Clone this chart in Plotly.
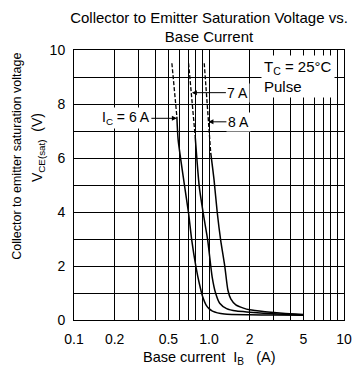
import numpy as np
import plotly.graph_objects as go

# ---- data ----
ic6_dash_x = [0.531, 0.555, 0.578]
ic6_dash_y = [9.51, 8.5, 7.53]
ic6_x = [0.578, 0.591, 0.655, 0.706, 0.745, 0.80, 0.847, 0.898, 0.95, 1.0, 1.06, 1.3, 2.0, 3.0, 5.0]
ic6_y = [7.53, 6.67, 5.06, 3.95, 2.96, 1.98, 1.36, 0.86, 0.56, 0.42, 0.33, 0.22, 0.19, 0.185, 0.18]

ic7_dash_x = [0.706, 0.75, 0.79]
ic7_dash_y = [9.51, 8.2, 6.8]
ic7_x = [0.79, 0.847, 0.91, 0.978, 1.055, 1.12, 1.2, 1.35, 1.6, 2.0, 3.0, 5.0]
ic7_y = [6.8, 4.94, 3.9, 2.96, 1.6, 0.99, 0.62, 0.42, 0.33, 0.29, 0.23, 0.19]

ic8_dash_x = [0.922, 0.96, 1.0, 1.03]
ic8_dash_y = [9.51, 8.3, 7.04, 6.19]
ic8_x = [1.03, 1.09, 1.15, 1.22, 1.31, 1.38, 1.45, 1.58, 1.8, 2.0, 2.6, 3.5, 5.0]
ic8_y = [6.19, 5.19, 4.0, 2.96, 1.98, 1.11, 0.78, 0.56, 0.44, 0.38, 0.31, 0.25, 0.2]

x_tickvals = [0.1, 0.2, 0.5, 1, 2, 5, 10]
x_ticktext = ["0.1", "0.2", "0.5", "1.0", "2", "5", "10"]
x_minorvals = [0.3, 0.4, 0.6, 0.7, 0.8, 0.9, 3, 4, 6, 7, 8, 9]
y_tickvals = [0, 2, 4, 6, 8, 10]
y_minorvals = [1, 3, 5, 7, 9]

FONT = "Liberation Sans, Arial, sans-serif"

fig = go.Figure()
for sx, sy, dx, dy in [(ic6_x, ic6_y, ic6_dash_x, ic6_dash_y),
                       (ic7_x, ic7_y, ic7_dash_x, ic7_dash_y),
                       (ic8_x, ic8_y, ic8_dash_x, ic8_dash_y)]:
    fig.add_trace(go.Scatter(x=dx, y=dy, mode="lines",
                             line=dict(color="black", width=1.3, dash="4px,2px"),
                             showlegend=False, hoverinfo="skip"))
    fig.add_trace(go.Scatter(x=sx, y=sy, mode="lines",
                             line=dict(color="black", width=1.5, shape="spline", smoothing=0.6),
                             showlegend=False, hoverinfo="skip"))

grid = dict(showgrid=True, gridcolor="black", gridwidth=1)
fig.update_layout(
    width=361, height=374,
    margin=dict(l=74, r=9, t=50, b=54),
    paper_bgcolor="white", plot_bgcolor="white",
    font=dict(family=FONT, color="black", size=14),
    title=dict(text="Collector to Emitter Saturation Voltage vs.<br>Base Current",
               font=dict(size=15, family=FONT, color="black"),
               x=0.5, xref="paper", xanchor="center",
               y=1 - 22.5 / 374, yref="container", yanchor="middle"),
    xaxis=dict(type="log", range=[-1, 1], tickmode="array", tickvals=x_tickvals, ticktext=x_ticktext,
               minor=dict(tickmode="array", tickvals=x_minorvals, ticks="", **grid),
               showline=True, linecolor="black", linewidth=1, mirror=True,
               ticks="", ticklabelstandoff=6, zeroline=False, tickfont=dict(size=14),
               **grid),
    yaxis=dict(range=[0, 10], tickmode="array", tickvals=y_tickvals,
               minor=dict(tickmode="array", tickvals=y_minorvals, ticks="", **grid),
               showline=True, linecolor="black", linewidth=1, mirror=True,
               ticks="", ticklabelstandoff=5, zeroline=False, tickfont=dict(size=14),
               **grid),
)

def lx(v):
    return float(np.log10(v))

annots = [
    dict(x=lx(0.578), y=7.47, text="I<sub>C</sub> = 6 A", ax=-51, ay=0),
    dict(x=lx(0.747), y=8.42, text="7 A", ax=46, ay=0),
    dict(x=lx(0.99), y=7.34, text="8 A", ax=30, ay=0),
]
for a in annots:
    fig.add_annotation(xref="x", yref="y", showarrow=True, arrowhead=2, arrowsize=1,
                       arrowwidth=1, arrowcolor="black", standoff=0,
                       bgcolor="white", font=dict(size=14, family=FONT, color="black"),
                       borderpad=1, **a)

fig.add_annotation(xref="paper", yref="paper", x=(267 - 74) / 278, y=(320 - 55) / 270,
                   xanchor="left", yanchor="top", align="left", showarrow=False,
                   text="T<sub>C</sub> = 25°C<br>Pulse", bgcolor="white", borderpad=2,
                   font=dict(size=15, family=FONT, color="black"))

# axis titles
fig.add_annotation(xref="paper", yref="paper", x=0.5, y=(320 - 358) / 270,
                   xanchor="center", yanchor="middle", showarrow=False,
                   text="Base current\u00a0 I<sub>B</sub>\u00a0\u00a0 (A)",
                   font=dict(size=14.5, family=FONT, color="black"))
fig.add_annotation(xref="paper", yref="paper", x=(15 - 74) / 278, y=(320 - 156) / 270,
                   xanchor="center", yanchor="middle", showarrow=False, textangle=-90,
                   text="Collector to emitter saturation voltage",
                   font=dict(size=12.5, family=FONT, color="black"))
fig.add_annotation(xref="paper", yref="paper", x=(37 - 74) / 278, y=(320 - 148) / 270,
                   xanchor="center", yanchor="middle", showarrow=False, textangle=-90,
                   text="V<sub>CE(sat)</sub>\u00a0 (V)",
                   font=dict(size=14, family=FONT, color="black"))

fig.write_html("out.html")
